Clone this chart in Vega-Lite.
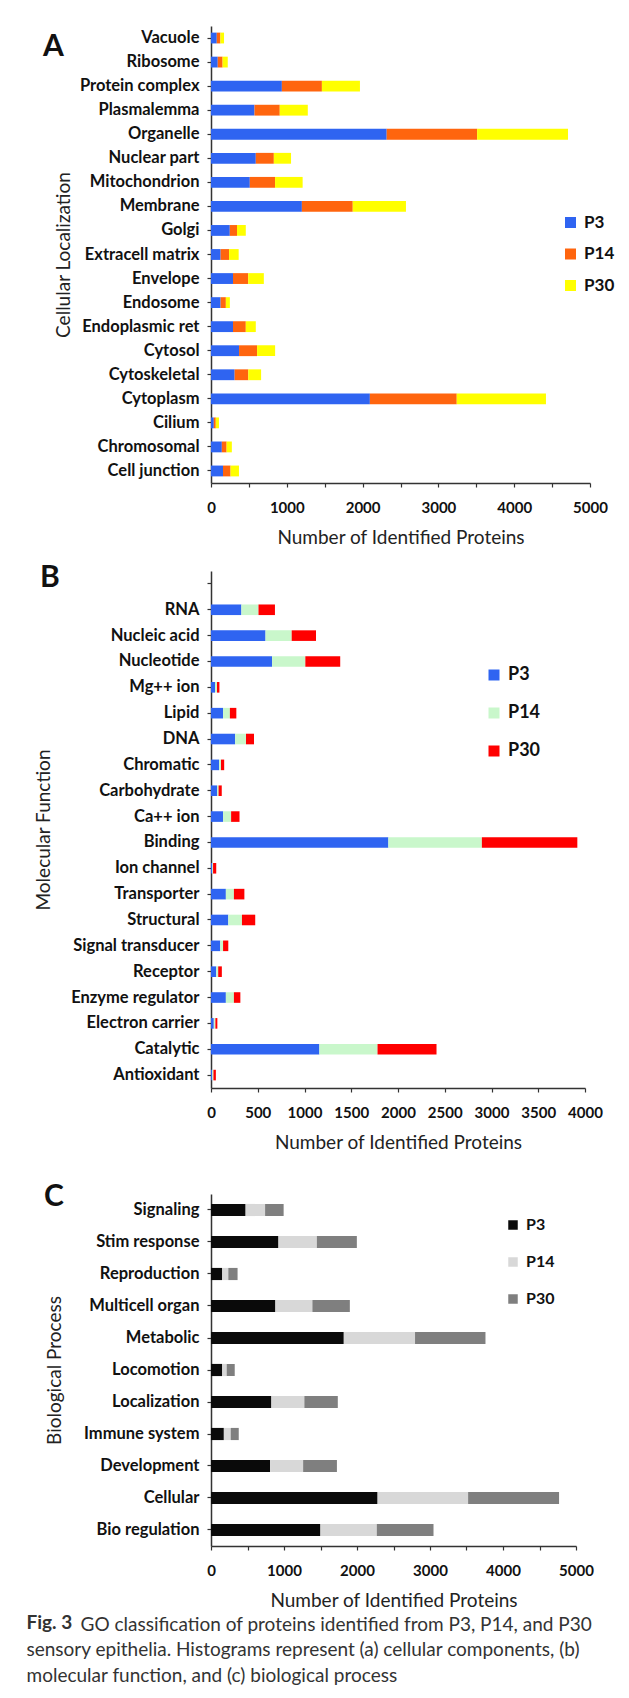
{
  "$schema": "https://vega.github.io/schema/vega-lite/v6.json",
  "background": "white",
  "padding": {"left": 26, "top": 26, "right": 0, "bottom": 0},
  "autosize": {"type": "pad"},
  "title": {"text": "GO classification of proteins identified from P3, P14, and P30", "orient": "bottom", "anchor": "start", "fontSize": 19, "fontWeight": "normal", "color": "#333", "dx": 54, "offset": -70},
  "datasets": {
    "cc": [
      {"cat": "Vacuole", "stage": "P3", "day": 3, "value": 76}, {"cat": "Vacuole", "stage": "P14", "day": 14, "value": 48}, {"cat": "Vacuole", "stage": "P30", "day": 30, "value": 48},
      {"cat": "Ribosome", "stage": "P3", "day": 3, "value": 89}, {"cat": "Ribosome", "stage": "P14", "day": 14, "value": 64}, {"cat": "Ribosome", "stage": "P30", "day": 30, "value": 68},
      {"cat": "Protein complex", "stage": "P3", "day": 3, "value": 935}, {"cat": "Protein complex", "stage": "P14", "day": 14, "value": 528}, {"cat": "Protein complex", "stage": "P30", "day": 30, "value": 502},
      {"cat": "Plasmalemma", "stage": "P3", "day": 3, "value": 574}, {"cat": "Plasmalemma", "stage": "P14", "day": 14, "value": 333}, {"cat": "Plasmalemma", "stage": "P30", "day": 30, "value": 370},
      {"cat": "Organelle", "stage": "P3", "day": 3, "value": 2318}, {"cat": "Organelle", "stage": "P14", "day": 14, "value": 1193}, {"cat": "Organelle", "stage": "P30", "day": 30, "value": 1199},
      {"cat": "Nuclear part", "stage": "P3", "day": 3, "value": 591}, {"cat": "Nuclear part", "stage": "P14", "day": 14, "value": 238}, {"cat": "Nuclear part", "stage": "P30", "day": 30, "value": 227},
      {"cat": "Mitochondrion", "stage": "P3", "day": 3, "value": 512}, {"cat": "Mitochondrion", "stage": "P14", "day": 14, "value": 333}, {"cat": "Mitochondrion", "stage": "P30", "day": 30, "value": 364},
      {"cat": "Membrane", "stage": "P3", "day": 3, "value": 1199}, {"cat": "Membrane", "stage": "P14", "day": 14, "value": 671}, {"cat": "Membrane", "stage": "P30", "day": 30, "value": 702},
      {"cat": "Golgi", "stage": "P3", "day": 3, "value": 248}, {"cat": "Golgi", "stage": "P14", "day": 14, "value": 95}, {"cat": "Golgi", "stage": "P30", "day": 30, "value": 116},
      {"cat": "Extracell matrix", "stage": "P3", "day": 3, "value": 127}, {"cat": "Extracell matrix", "stage": "P14", "day": 14, "value": 111}, {"cat": "Extracell matrix", "stage": "P30", "day": 30, "value": 127},
      {"cat": "Envelope", "stage": "P3", "day": 3, "value": 290}, {"cat": "Envelope", "stage": "P14", "day": 14, "value": 201}, {"cat": "Envelope", "stage": "P30", "day": 30, "value": 206},
      {"cat": "Endosome", "stage": "P3", "day": 3, "value": 127}, {"cat": "Endosome", "stage": "P14", "day": 14, "value": 69}, {"cat": "Endosome", "stage": "P30", "day": 30, "value": 53},
      {"cat": "Endoplasmic ret", "stage": "P3", "day": 3, "value": 290}, {"cat": "Endoplasmic ret", "stage": "P14", "day": 14, "value": 169}, {"cat": "Endoplasmic ret", "stage": "P30", "day": 30, "value": 132},
      {"cat": "Cytosol", "stage": "P3", "day": 3, "value": 370}, {"cat": "Cytosol", "stage": "P14", "day": 14, "value": 238}, {"cat": "Cytosol", "stage": "P30", "day": 30, "value": 238},
      {"cat": "Cytoskeletal", "stage": "P3", "day": 3, "value": 312}, {"cat": "Cytoskeletal", "stage": "P14", "day": 14, "value": 180}, {"cat": "Cytoskeletal", "stage": "P30", "day": 30, "value": 169},
      {"cat": "Cytoplasm", "stage": "P3", "day": 3, "value": 2096}, {"cat": "Cytoplasm", "stage": "P14", "day": 14, "value": 1146}, {"cat": "Cytoplasm", "stage": "P30", "day": 30, "value": 1177},
      {"cat": "Cilium", "stage": "P3", "day": 3, "value": 37}, {"cat": "Cilium", "stage": "P14", "day": 14, "value": 26}, {"cat": "Cilium", "stage": "P30", "day": 30, "value": 42},
      {"cat": "Chromosomal", "stage": "P3", "day": 3, "value": 143}, {"cat": "Chromosomal", "stage": "P14", "day": 14, "value": 63}, {"cat": "Chromosomal", "stage": "P30", "day": 30, "value": 69},
      {"cat": "Cell junction", "stage": "P3", "day": 3, "value": 158}, {"cat": "Cell junction", "stage": "P14", "day": 14, "value": 100}, {"cat": "Cell junction", "stage": "P30", "day": 30, "value": 111}
    ],
    "mf": [
      {"cat": "RNA", "stage": "P3", "day": 3, "value": 325}, {"cat": "RNA", "stage": "P14", "day": 14, "value": 183}, {"cat": "RNA", "stage": "P30", "day": 30, "value": 176},
      {"cat": "Nucleic acid", "stage": "P3", "day": 3, "value": 583}, {"cat": "Nucleic acid", "stage": "P14", "day": 14, "value": 280}, {"cat": "Nucleic acid", "stage": "P30", "day": 30, "value": 260},
      {"cat": "Nucleotide", "stage": "P3", "day": 3, "value": 653}, {"cat": "Nucleotide", "stage": "P14", "day": 14, "value": 356}, {"cat": "Nucleotide", "stage": "P30", "day": 30, "value": 373},
      {"cat": "Mg++ ion", "stage": "P3", "day": 3, "value": 43}, {"cat": "Mg++ ion", "stage": "P14", "day": 14, "value": 21}, {"cat": "Mg++ ion", "stage": "P30", "day": 30, "value": 26},
      {"cat": "Lipid", "stage": "P3", "day": 3, "value": 129}, {"cat": "Lipid", "stage": "P14", "day": 14, "value": 73}, {"cat": "Lipid", "stage": "P30", "day": 30, "value": 69},
      {"cat": "DNA", "stage": "P3", "day": 3, "value": 258}, {"cat": "DNA", "stage": "P14", "day": 14, "value": 116}, {"cat": "DNA", "stage": "P30", "day": 30, "value": 86},
      {"cat": "Chromatic", "stage": "P3", "day": 3, "value": 86}, {"cat": "Chromatic", "stage": "P14", "day": 14, "value": 21}, {"cat": "Chromatic", "stage": "P30", "day": 30, "value": 34},
      {"cat": "Carbohydrate", "stage": "P3", "day": 3, "value": 64}, {"cat": "Carbohydrate", "stage": "P14", "day": 14, "value": 17}, {"cat": "Carbohydrate", "stage": "P30", "day": 30, "value": 34},
      {"cat": "Ca++ ion", "stage": "P3", "day": 3, "value": 129}, {"cat": "Ca++ ion", "stage": "P14", "day": 14, "value": 86}, {"cat": "Ca++ ion", "stage": "P30", "day": 30, "value": 90},
      {"cat": "Binding", "stage": "P3", "day": 3, "value": 1897}, {"cat": "Binding", "stage": "P14", "day": 14, "value": 1000}, {"cat": "Binding", "stage": "P30", "day": 30, "value": 1021},
      {"cat": "Ion channel", "stage": "P3", "day": 3, "value": 13}, {"cat": "Ion channel", "stage": "P14", "day": 14, "value": 9}, {"cat": "Ion channel", "stage": "P30", "day": 30, "value": 34},
      {"cat": "Transporter", "stage": "P3", "day": 3, "value": 159}, {"cat": "Transporter", "stage": "P14", "day": 14, "value": 86}, {"cat": "Transporter", "stage": "P30", "day": 30, "value": 112},
      {"cat": "Structural", "stage": "P3", "day": 3, "value": 185}, {"cat": "Structural", "stage": "P14", "day": 14, "value": 146}, {"cat": "Structural", "stage": "P30", "day": 30, "value": 142},
      {"cat": "Signal transducer", "stage": "P3", "day": 3, "value": 99}, {"cat": "Signal transducer", "stage": "P14", "day": 14, "value": 30}, {"cat": "Signal transducer", "stage": "P30", "day": 30, "value": 56},
      {"cat": "Receptor", "stage": "P3", "day": 3, "value": 56}, {"cat": "Receptor", "stage": "P14", "day": 14, "value": 21}, {"cat": "Receptor", "stage": "P30", "day": 30, "value": 39},
      {"cat": "Enzyme regulator", "stage": "P3", "day": 3, "value": 159}, {"cat": "Enzyme regulator", "stage": "P14", "day": 14, "value": 86}, {"cat": "Enzyme regulator", "stage": "P30", "day": 30, "value": 69},
      {"cat": "Electron carrier", "stage": "P3", "day": 3, "value": 30}, {"cat": "Electron carrier", "stage": "P14", "day": 14, "value": 17}, {"cat": "Electron carrier", "stage": "P30", "day": 30, "value": 21},
      {"cat": "Catalytic", "stage": "P3", "day": 3, "value": 1159}, {"cat": "Catalytic", "stage": "P14", "day": 14, "value": 622}, {"cat": "Catalytic", "stage": "P30", "day": 30, "value": 631},
      {"cat": "Antioxidant", "stage": "P3", "day": 3, "value": 13}, {"cat": "Antioxidant", "stage": "P14", "day": 14, "value": 13}, {"cat": "Antioxidant", "stage": "P30", "day": 30, "value": 26}
    ],
    "bp": [
      {"cat": "Signaling", "stage": "P3", "day": 3, "value": 474}, {"cat": "Signaling", "stage": "P14", "day": 14, "value": 267}, {"cat": "Signaling", "stage": "P30", "day": 30, "value": 254},
      {"cat": "Stim response", "stage": "P3", "day": 3, "value": 924}, {"cat": "Stim response", "stage": "P14", "day": 14, "value": 526}, {"cat": "Stim response", "stage": "P30", "day": 30, "value": 548},
      {"cat": "Reproduction", "stage": "P3", "day": 3, "value": 154}, {"cat": "Reproduction", "stage": "P14", "day": 14, "value": 83}, {"cat": "Reproduction", "stage": "P30", "day": 30, "value": 127},
      {"cat": "Multicell organ", "stage": "P3", "day": 3, "value": 882}, {"cat": "Multicell organ", "stage": "P14", "day": 14, "value": 507}, {"cat": "Multicell organ", "stage": "P30", "day": 30, "value": 513},
      {"cat": "Metabolic", "stage": "P3", "day": 3, "value": 1819}, {"cat": "Metabolic", "stage": "P14", "day": 14, "value": 976}, {"cat": "Metabolic", "stage": "P30", "day": 30, "value": 965},
      {"cat": "Locomotion", "stage": "P3", "day": 3, "value": 154}, {"cat": "Locomotion", "stage": "P14", "day": 14, "value": 61}, {"cat": "Locomotion", "stage": "P30", "day": 30, "value": 110},
      {"cat": "Localization", "stage": "P3", "day": 3, "value": 827}, {"cat": "Localization", "stage": "P14", "day": 14, "value": 452}, {"cat": "Localization", "stage": "P30", "day": 30, "value": 458},
      {"cat": "Immune system", "stage": "P3", "day": 3, "value": 176}, {"cat": "Immune system", "stage": "P14", "day": 14, "value": 94}, {"cat": "Immune system", "stage": "P30", "day": 30, "value": 110},
      {"cat": "Development", "stage": "P3", "day": 3, "value": 810}, {"cat": "Development", "stage": "P14", "day": 14, "value": 452}, {"cat": "Development", "stage": "P30", "day": 30, "value": 463},
      {"cat": "Cellular", "stage": "P3", "day": 3, "value": 2282}, {"cat": "Cellular", "stage": "P14", "day": 14, "value": 1240}, {"cat": "Cellular", "stage": "P30", "day": 30, "value": 1246},
      {"cat": "Bio regulation", "stage": "P3", "day": 3, "value": 1499}, {"cat": "Bio regulation", "stage": "P14", "day": 14, "value": 772}, {"cat": "Bio regulation", "stage": "P30", "day": 30, "value": 777}
    ]
  },
  "vconcat": [
    {
      "title": {"text": "Fig. 3", "subtitle": ["sensory epithelia. Histograms represent (a) cellular components, (b)", "molecular function, and (c) biological process"], "orient": "bottom", "anchor": "start", "fontSize": 19, "fontWeight": "bold", "color": "#333", "subtitleFontSize": 19, "subtitleFontWeight": "normal", "subtitleColor": "#333", "subtitleLineHeight": 26.5, "subtitlePadding": 7.5, "dx": -7.5, "offset": 4},
      "spacing": 16,
      "vconcat": [
        {
          "data": {"name": "cc"},
          "width": 379,
          "height": 457,
          "title": {"text": "A", "orient": "top", "anchor": "start", "frame": "group", "fontSize": 30, "fontWeight": "bold", "color": "#111", "dx": -168, "offset": -36, "baseline": "top"},
          "mark": {"type": "bar"},
          "encoding": {
            "y": {"field": "cat", "type": "nominal", "scale": {"domain": ["Vacuole", "Ribosome", "Protein complex", "Plasmalemma", "Organelle", "Nuclear part", "Mitochondrion", "Membrane", "Golgi", "Extracell matrix", "Envelope", "Endosome", "Endoplasmic ret", "Cytosol", "Cytoskeletal", "Cytoplasm", "Cilium", "Chromosomal", "Cell junction"], "paddingInner": 0.55, "paddingOuter": 0.275}, "axis": {"title": "Cellular Localization", "titleX": -148, "titleY": 228.5, "titleBaseline": "middle"}},
            "x": {"field": "value", "type": "quantitative", "stack": "zero", "scale": {"domain": [0, 5000], "nice": false}, "axis": {"title": "Number of Identified Proteins", "format": "d", "values": [0, 500, 1000, 1500, 2000, 2500, 3000, 3500, 4000, 4500, 5000], "labelExpr": "datum.value % 1000 === 0 ? datum.label : ''"}},
            "order": {"field": "day", "type": "quantitative", "sort": "ascending"},
            "color": {"field": "stage", "type": "nominal", "sort": ["P3", "P14", "P30"], "scale": {"domain": ["P3", "P14", "P30"], "range": ["#2F64F1", "#FF650E", "#FFFF00"]}, "legend": {"title": null, "orient": "none", "legendX": 351, "legendY": 188, "rowPadding": 13.5, "symbolSize": 121, "labelFontSize": 17, "labelOffset": 5}}
          }
        },
        {
          "data": {"name": "mf"},
          "width": 374,
          "height": 517,
          "title": {"text": "B", "orient": "top", "anchor": "start", "frame": "group", "fontSize": 30, "fontWeight": "bold", "color": "#111", "dx": -171, "offset": -22, "baseline": "top"},
          "mark": {"type": "bar"},
          "encoding": {
            "y": {"field": "cat", "type": "nominal", "scale": {"domain": [" ", "RNA", "Nucleic acid", "Nucleotide", "Mg++ ion", "Lipid", "DNA", "Chromatic", "Carbohydrate", "Ca++ ion", "Binding", "Ion channel", "Transporter", "Structural", "Signal transducer", "Receptor", "Enzyme regulator", "Electron carrier", "Catalytic", "Antioxidant"], "paddingInner": 0.59, "paddingOuter": 0.295}, "axis": {"title": "Molecular Function", "titleX": -168, "titleY": 258.5, "titleBaseline": "middle"}},
            "x": {"field": "value", "type": "quantitative", "stack": "zero", "scale": {"domain": [0, 4000], "nice": false}, "axis": {"title": "Number of Identified Proteins", "format": "d", "values": [0, 500, 1000, 1500, 2000, 2500, 3000, 3500, 4000]}},
            "order": {"field": "day", "type": "quantitative", "sort": "ascending"},
            "color": {"field": "stage", "type": "nominal", "sort": ["P3", "P14", "P30"], "scale": {"domain": ["P3", "P14", "P30"], "range": ["#2F64F1", "#C9F7CB", "#FF0000"]}, "legend": {"title": null, "orient": "none", "legendX": 274, "legendY": 95, "rowPadding": 20, "symbolSize": 121, "labelFontSize": 18, "labelOffset": 5}}
          }
        },
        {
          "data": {"name": "bp"},
          "width": 365,
          "height": 352,
          "title": {"text": ["", "C"], "lineHeight": 14, "orient": "top", "anchor": "start", "frame": "group", "fontSize": 30, "fontWeight": "bold", "color": "#111", "dx": -167, "offset": -18, "baseline": "top"},
          "mark": {"type": "bar"},
          "encoding": {
            "y": {"field": "cat", "type": "nominal", "scale": {"domain": ["Signaling", "Stim response", "Reproduction", "Multicell organ", "Metabolic", "Locomotion", "Localization", "Immune system", "Development", "Cellular", "Bio regulation"], "paddingInner": 0.62, "paddingOuter": 0.31}, "axis": {"title": "Biological Process", "titleX": -157, "titleY": 176, "titleBaseline": "middle"}},
            "x": {"field": "value", "type": "quantitative", "stack": "zero", "scale": {"domain": [0, 5000], "nice": false}, "axis": {"title": "Number of Identified Proteins", "format": "d", "values": [0, 500, 1000, 1500, 2000, 2500, 3000, 3500, 4000, 4500, 5000], "labelExpr": "datum.value % 1000 === 0 ? datum.label : ''"}},
            "order": {"field": "day", "type": "quantitative", "sort": "ascending"},
            "color": {"field": "stage", "type": "nominal", "sort": ["P3", "P14", "P30"], "scale": {"domain": ["P3", "P14", "P30"], "range": ["#0A0A0A", "#D8D8D8", "#7F7F7F"]}, "legend": {"title": null, "orient": "none", "legendX": 294, "legendY": 23, "rowPadding": 21, "symbolSize": 90, "labelFontSize": 16, "labelOffset": 5}}
          }
        }
      ],
      "resolve": {"scale": {"color": "independent", "x": "independent", "y": "independent"}}
    }
  ],
  "config": {
    "font": "Lato",
    "view": {"stroke": null},
    "axis": {"domainColor": "#333", "tickColor": "#333", "domainWidth": 1.5, "tickWidth": 1.2, "tickSize": 4, "grid": false, "labelColor": "#111", "titleColor": "#222", "labelFont": "Lato", "titleFont": "Lato"},
    "axisY": {"labelFontSize": 16.5, "labelFontWeight": "bold", "labelPadding": 8, "titleFontSize": 19, "titleFontWeight": "normal"},
    "axisX": {"labelFontSize": 15, "labelFontWeight": "bold", "labelPadding": 13, "labelFlush": false, "labelOverlap": false, "titleFontSize": 19, "titleFontWeight": "normal", "titlePadding": 13},
    "legend": {"symbolType": "square", "symbolStrokeWidth": 0, "labelFontWeight": "bold", "labelColor": "#111", "labelFont": "Lato", "padding": 0},
    "title": {"font": "Lato"}
  }
}
